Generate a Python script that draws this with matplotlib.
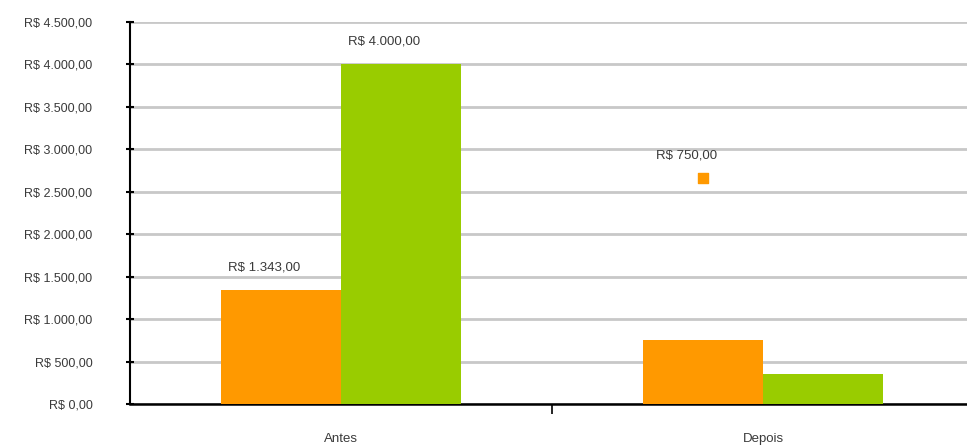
import matplotlib
matplotlib.use("Agg")
import matplotlib.pyplot as plt
import numpy as np

# ---------- DATA ----------
categories = ["Antes", "Depois"]
serie_laranja = [1343, 750]
serie_verde = [4000, 350]
rotulos_laranja = ["R$ 1.343,00", "R$ 750,00"]
rotulos_verde = ["R$ 4.000,00", ""]
yticks = [0, 500, 1000, 1500, 2000, 2500, 3000, 3500, 4000, 4500]
ytick_labels = ["R$ 0,00", "R$ 500,00", "R$ 1.000,00", "R$ 1.500,00", "R$ 2.000,00",
                "R$ 2.500,00", "R$ 3.000,00", "R$ 3.500,00", "R$ 4.000,00", "R$ 4.500,00"]
# stray label marker shown above the Depois orange label
marcador_valor = 2665
# --------------------------

COR_LARANJA = "#FF9900"
COR_VERDE = "#99CC00"
COR_TEXTO = "#3a3a3a"

plt.rcParams['font.family'] = ['Liberation Sans Narrow', 'Liberation Sans', 'DejaVu Sans']


def main():
    fig = plt.figure(figsize=(9.67, 4.48), dpi=100)
    ax = fig.add_axes([130 / 967, 1 - 404 / 448, 837 / 967, (404 - 22) / 448])

    x = np.arange(len(categories))
    w = 120 / 422

    b1 = ax.bar(x - w / 2, serie_laranja, w, color=COR_LARANJA, zorder=3)
    b2 = ax.bar(x + w / 2, serie_verde, w, color=COR_VERDE, zorder=3)

    # value labels (slightly left of bar centre, as in the original)
    for rect, lab in zip(b1, rotulos_laranja):
        if lab == "R$ 750,00":
            continue
        ax.annotate(lab, (rect.get_x() + rect.get_width() / 2, rect.get_height()),
                    xytext=(-12, 12), textcoords="offset points", ha="center", va="bottom",
                    fontsize=9.5, color=COR_TEXTO)
    for rect, lab in zip(b2, rotulos_verde):
        if lab:
            ax.annotate(lab, (rect.get_x() + rect.get_width() / 2, rect.get_height()),
                        xytext=(-12, 12), textcoords="offset points", ha="center", va="bottom",
                        fontsize=9.5, color=COR_TEXTO)

    # the displaced Depois label with its small square marker
    xm = x[1] - w / 2
    ax.scatter([xm], [marcador_valor], marker="s", s=60, color=COR_LARANJA, zorder=4)
    ax.annotate(rotulos_laranja[1], (xm, marcador_valor), xytext=(-12, 12),
                textcoords="offset points", ha="center", va="bottom",
                fontsize=9.5, color=COR_TEXTO)

    ax.set_ylim(0, 4500)
    ax.set_xlim(-0.5, -0.5 + 837 / 422)
    ax.set_yticks(yticks)
    ax.set_yticklabels(ytick_labels, fontsize=9, color=COR_TEXTO)
    ax.yaxis.grid(True, color="#c8c8c8", linewidth=2, zorder=0)
    ax.set_axisbelow(True)

    ax.set_xticks([0.5], minor=False)
    ax.set_xticklabels([""])
    ax.set_xticks(x, minor=True)
    ax.set_xticklabels(categories, minor=True, fontsize=9.5, color=COR_TEXTO)
    ax.tick_params(axis="x", which="minor", length=0, pad=21)
    ax.tick_params(axis="x", which="major", length=7, width=1.2, direction="out")
    ax.tick_params(axis="y", length=6, width=1.5, direction="inout", pad=24)

    for s in ["top", "right"]:
        ax.spines[s].set_visible(False)
    ax.spines["left"].set_linewidth(1.5)
    ax.spines["bottom"].set_linewidth(1.8)

    fig.savefig("out.png", dpi=100)


if __name__ == "__main__":
    main()
